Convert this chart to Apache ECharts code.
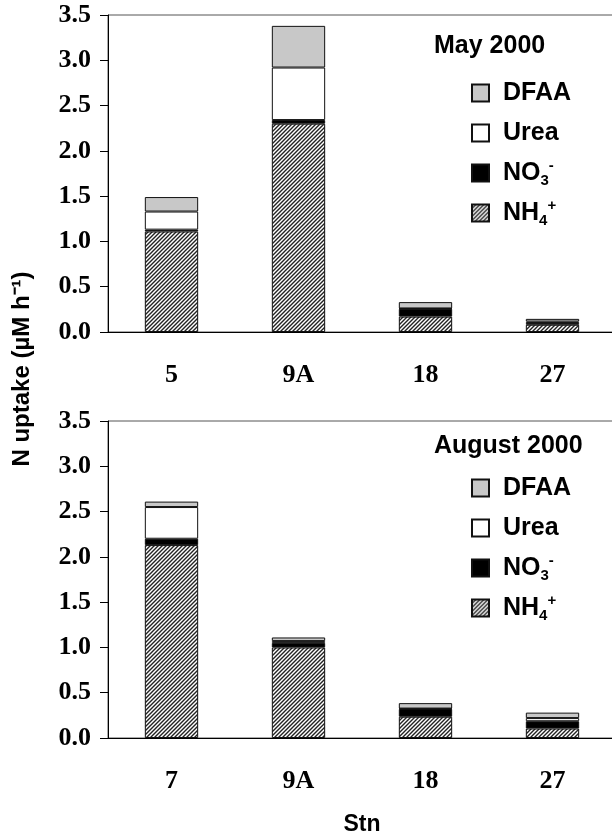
<!DOCTYPE html>
<html style="height: 100%">
<head>
    <meta charset="utf-8">
</head>
<body style="height: 100%; margin: 0; background: #fff">
<div id="chart" style="width: 612px; height: 837px"></div>
<script src="https://cdn.jsdelivr.net/npm/echarts@6/dist/echarts.min.js"></script>
<script type="text/javascript">
    // stations and values (uM h-1)
    var stnMay = ['5', '9A', '18', '27'];
    var nh4May = [1.11, 2.30, 0.17, 0.08];
    var no3May = [0.02, 0.04, 0.085, 0.02];
    var ureaMay = [0.20, 0.58, 0.005, 0.015];
    var dfaaMay = [0.16, 0.46, 0.07, 0.03];

    var stnAug = ['7', '9A', '18', '27'];
    var nh4Aug = [2.13, 1.00, 0.235, 0.105];
    var no3Aug = [0.07, 0.05, 0.085, 0.08];
    var ureaAug = [0.35, 0.02, 0.005, 0.035];
    var dfaaAug = [0.06, 0.04, 0.06, 0.06];

    // hatch for NH4+
    function hatch() {
        var c = document.createElement('canvas');
        c.width = 4; c.height = 4;
        var ctx = c.getContext('2d');
        ctx.fillStyle = '#fff';
        ctx.fillRect(0, 0, 4, 4);
        ctx.strokeStyle = '#222';
        ctx.lineWidth = 1.4;
        ctx.beginPath();
        ctx.moveTo(-1, 5); ctx.lineTo(5, -1);
        ctx.moveTo(-3, 3); ctx.lineTo(3, -3);
        ctx.moveTo(1, 7); ctx.lineTo(7, 1);
        ctx.stroke();
        return {image: c, repeat: 'repeat'};
    }
    var hatchFill = hatch();

    var sans = 'Liberation Sans';
    var serif = 'Liberation Serif';

    var labels = {
        'DFAA': '{t|DFAA}',
        'Urea': '{t|Urea}',
        'NO3': '{t|NO}{sub|3}{sup|-}',
        'NH4': '{t|NH}{sub|4}{sup|+}'
    };
    var rich = {
        t: {fontFamily: sans, fontWeight: 'bold', fontSize: 25, lineHeight: 30, color: '#000'},
        sub: {fontFamily: sans, fontWeight: 'bold', fontSize: 15, lineHeight: 12, verticalAlign: 'bottom', color: '#000'},
        sup: {fontFamily: sans, fontWeight: 'bold', fontSize: 15, lineHeight: 12, verticalAlign: 'top', color: '#000'}
    };

    function legendAt(top) {
        return {
            orient: 'vertical', left: 466, top: top,
            itemWidth: 17, itemHeight: 17, itemGap: 10,
            icon: 'rect',
            data: ['DFAA', 'Urea', 'NO3', 'NH4'],
            formatter: function (n) { return labels[n]; },
            textStyle: {rich: rich, padding: [0, 0, 0, 9], lineHeight: 30},
            selectedMode: false
        };
    }

    function xAx(i, cats, name) {
        return {
            type: 'category', gridIndex: i, data: cats,
            axisLine: {lineStyle: {color: '#000', width: 1}},
            axisTick: {length: 6, lineStyle: {color: '#000'}},
            axisLabel: {fontFamily: serif, fontWeight: 'bold', fontSize: 26, color: '#000', margin: 30},
            name: name, nameLocation: 'middle', nameGap: 75, nameMoveOverlap: false,
            nameTextStyle: {fontFamily: sans, fontWeight: 'bold', fontSize: 23, color: '#000'}
        };
    }
    function yAx(i) {
        return {
            type: 'value', gridIndex: i, min: 0, max: 3.5, interval: 0.5,
            axisLine: {show: true, lineStyle: {color: '#000', width: 1}},
            axisTick: {show: true, length: 8, lineStyle: {color: '#000'}},
            splitLine: {show: false},
            axisLabel: {fontFamily: serif, fontWeight: 'bold', fontSize: 26, color: '#000', margin: 17,
                formatter: function (v) { return v.toFixed(1); }}
        };
    }

    function bars(i, nh4, no3, urea, dfaa) {
        var st = 'stn' + i;
        var b = {borderColor: '#111', borderWidth: 1};
        return [
            {name: 'NH4', type: 'bar', stack: st, xAxisIndex: i, yAxisIndex: i, barWidth: '42%', data: nh4,
                itemStyle: Object.assign({color: hatchFill}, b)},
            {name: 'NO3', type: 'bar', stack: st, xAxisIndex: i, yAxisIndex: i, data: no3,
                itemStyle: Object.assign({color: '#000'}, b)},
            {name: 'Urea', type: 'bar', stack: st, xAxisIndex: i, yAxisIndex: i, data: urea,
                itemStyle: Object.assign({color: '#fff'}, b)},
            {name: 'DFAA', type: 'bar', stack: st, xAxisIndex: i, yAxisIndex: i, data: dfaa,
                itemStyle: Object.assign({color: '#c8c8c8'}, b)}
        ];
    }

    var myChart = echarts.init(document.getElementById('chart'));
    var option = {
        animation: false,
        backgroundColor: '#fff',
        title: [
            {text: 'May 2000', left: 429, top: 29,
                textStyle: {fontFamily: sans, fontWeight: 'bold', fontSize: 25, color: '#000'}},
            {text: 'August 2000', left: 429, top: 429,
                textStyle: {fontFamily: sans, fontWeight: 'bold', fontSize: 25, color: '#000'}}
        ],
        legend: [legendAt(73), legendAt(468)],
        grid: [
            {left: 108, right: -4, top: 15, height: 317, show: true, borderColor: '#555', borderWidth: 1,
                outerBoundsMode: 'none'},
            {left: 108, right: -4, top: 421, height: 317, show: true, borderColor: '#555', borderWidth: 1,
                outerBoundsMode: 'none'}
        ],
        xAxis: [xAx(0, stnMay, ''), xAx(1, stnAug, 'Stn')],
        yAxis: [yAx(0), yAx(1)],
        graphic: [{
            type: 'text', x: 22, y: 369, rotation: Math.PI / 2,
            style: {text: 'N uptake (µM h⁻¹)', fontFamily: sans, fontWeight: 'bold', fontSize: 24,
                fill: '#000', align: 'center', verticalAlign: 'middle'}
        }],
        series: bars(0, nh4May, no3May, ureaMay, dfaaMay).concat(bars(1, nh4Aug, no3Aug, ureaAug, dfaaAug))
    };
    myChart.setOption(option);
</script>
</body>
</html>
